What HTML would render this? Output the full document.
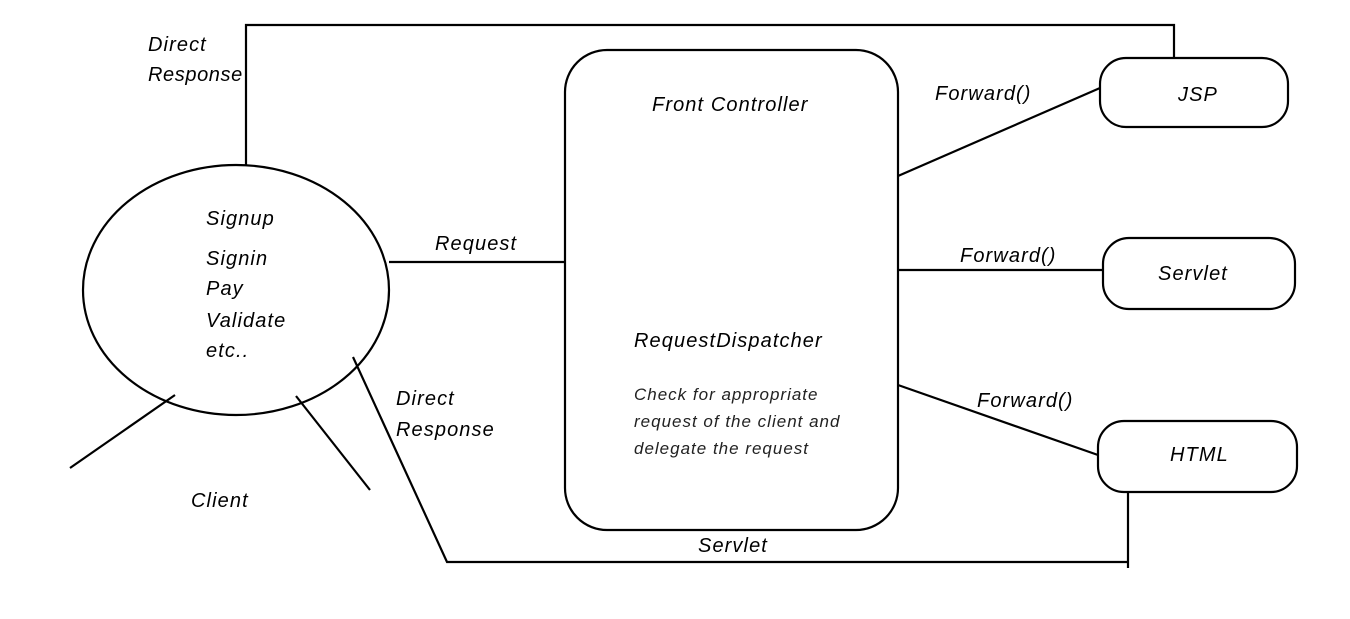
<!DOCTYPE html>
<html><head><meta charset="utf-8"><style>
html,body{margin:0;padding:0;background:#fff;}
svg{display:block;}
text{font-family:"Liberation Sans",sans-serif;font-style:italic;font-size:20px;letter-spacing:1.1px;fill:#000;}
.c{font-style:italic;font-size:17px;letter-spacing:1px;fill:#222;}
</style></head><body>
<svg width="1350" height="619" viewBox="0 0 1350 619" xmlns="http://www.w3.org/2000/svg">
<g fill="none" stroke="#000" stroke-width="2.2">
<ellipse cx="236" cy="290" rx="153" ry="125"/>
<polyline points="246,165 246,25 1174,25 1174,58"/>
<rect x="1100" y="58" width="188" height="69" rx="26"/>
<rect x="1103" y="238" width="192" height="71" rx="26"/>
<rect x="1098" y="421" width="199" height="71" rx="26"/>
<rect x="565" y="50" width="333" height="480" rx="42"/>
<line x1="389" y1="262" x2="565" y2="262"/>
<line x1="898" y1="176" x2="1100" y2="88"/>
<line x1="898" y1="270" x2="1103" y2="270"/>
<line x1="898" y1="385" x2="1098" y2="455"/>
<line x1="175" y1="395" x2="70" y2="468"/>
<line x1="296" y1="396" x2="370" y2="490"/>
<polyline points="353,357 447,562 1128,562"/>
<line x1="1128" y1="492" x2="1128" y2="568"/>
</g>
<text x="148" y="51">Direct</text>
<text x="148" y="81" style="letter-spacing:0.6px">Response</text>
<text x="652" y="111">Front Controller</text>
<text x="206" y="225">Signup</text>
<text x="206" y="265">Signin</text>
<text x="206" y="295">Pay</text>
<text x="206" y="327">Validate</text>
<text x="206" y="357">etc..</text>
<text x="435" y="250">Request</text>
<text x="396" y="405">Direct</text>
<text x="396" y="436">Response</text>
<text x="191" y="507">Client</text>
<text x="634" y="347">RequestDispatcher</text>
<text class="c" x="634" y="400">Check for appropriate</text>
<text class="c" x="634" y="427">request of the client and</text>
<text class="c" x="634" y="454">delegate the request</text>
<text x="935" y="100">Forward()</text>
<text x="960" y="262">Forward()</text>
<text x="977" y="407">Forward()</text>
<text x="1178" y="101">JSP</text>
<text x="1158" y="280">Servlet</text>
<text x="1170" y="461">HTML</text>
<text x="698" y="552">Servlet</text>
</svg>
</body></html>
